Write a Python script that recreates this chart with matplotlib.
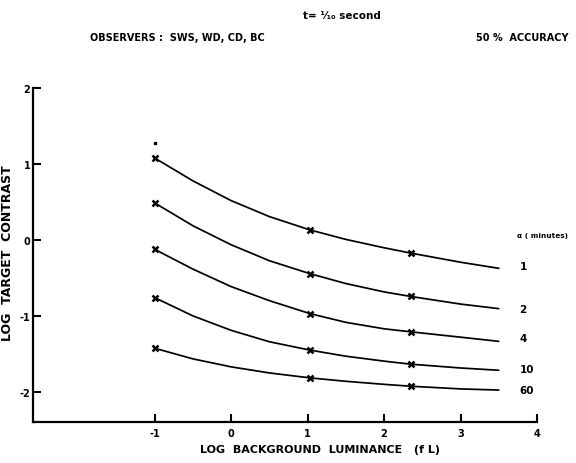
import matplotlib
matplotlib.use("Agg")
import matplotlib.pyplot as plt

plt.rcParams['font.family'] = ['DejaVu Sans']

# Curve sample points (log background luminance)
x_curve = [-1.0, -0.5, 0.0, 0.5, 1.03, 1.5, 2.0, 2.35, 3.0, 3.5]
curves = {
    "1":  [1.08, 0.78, 0.52, 0.31, 0.135, 0.01, -0.10, -0.17, -0.29, -0.37],
    "2":  [0.49, 0.19, -0.06, -0.27, -0.44, -0.57, -0.68, -0.74, -0.84, -0.90],
    "4":  [-0.12, -0.38, -0.61, -0.795, -0.965, -1.08, -1.165, -1.205, -1.275, -1.33],
    "10": [-0.755, -0.995, -1.185, -1.335, -1.445, -1.525, -1.59, -1.63, -1.68, -1.71],
    "60": [-1.42, -1.56, -1.665, -1.745, -1.81, -1.855, -1.895, -1.92, -1.955, -1.97],
}
# measured data points (markers)
x_points = [-1.0, 1.03, 2.35]
points = {
    "1":  [1.08, 0.135, -0.17],
    "2":  [0.49, -0.44, -0.74],
    "4":  [-0.12, -0.965, -1.205],
    "10": [-0.755, -1.445, -1.63],
    "60": [-1.42, -1.81, -1.92],
}
label_y = {"1": -0.34, "2": -0.90, "4": -1.28, "10": -1.69, "60": -1.97}
stray_dot = (-1.0, 1.28)

x_ticks = [-1, 0, 1, 2, 3, 4]
y_ticks = [-2, -1, 0, 1, 2]

fig = plt.figure(figsize=(5.76, 4.64), dpi=100)
ax = fig.add_axes([33/576, 1 - 423/464, (537 - 33)/576, (423 - 89)/464])

for key in curves:
    ax.plot(x_curve, curves[key], color='black', lw=1.25,
            solid_capstyle='round', solid_joinstyle='round')
    ax.plot(x_points, points[key], ls='none', marker='x', ms=4, mew=1.8, color='black')
    ax.text(3.77, label_y[key], key, fontsize=7.5, fontweight='bold',
            ha='left', va='center', clip_on=False)

ax.plot([stray_dot[0]], [stray_dot[1]], ls='none', marker='s', ms=1.5, color='black')

ax.text(3.74, 0.07, "α ( minutes)", fontsize=5.3, fontweight='bold',
        ha='left', va='center', clip_on=False)

ax.set_xlim(-2.59, 4.0)
ax.set_ylim(-2.39, 2.0)
ax.set_xticks(x_ticks)
ax.set_xticklabels([str(t) for t in x_ticks])
ax.set_yticks(y_ticks)
ax.set_yticklabels([str(t) for t in y_ticks])
ax.tick_params(direction='in', length=6, width=1.5, labelsize=7, pad=4)
ax.tick_params(axis='y', pad=2)
for lab in ax.get_xticklabels() + ax.get_yticklabels():
    lab.set_fontweight('bold')

for s in ['top', 'right']:
    ax.spines[s].set_visible(False)
for s in ['left', 'bottom']:
    ax.spines[s].set_linewidth(1.6)

ax.set_xlabel("LOG  BACKGROUND  LUMINANCE   (f L)", fontsize=8, fontweight='bold',
              labelpad=4)
ax.xaxis.set_label_coords((320 - 33) / (537 - 33), -0.065)
ax.set_ylabel("LOG  TARGET  CONTRAST", fontsize=9, fontweight='bold')
ax.yaxis.set_label_coords((14 - 33) / (537 - 33), (423 - 253) / (423 - 89))

fig.text(303/576, 1 - 16/464, "t= ¹⁄₁₀ second", fontsize=7.5, fontweight='bold',
         ha='left', va='center')
fig.text(90/576, 1 - 38/464, "OBSERVERS :  SWS, WD, CD, BC", fontsize=7,
         fontweight='bold', ha='left', va='center')
fig.text(569/576, 1 - 38/464, "50 %  ACCURACY", fontsize=7, fontweight='bold',
         ha='right', va='center')

fig.savefig("out.png", dpi=100)
